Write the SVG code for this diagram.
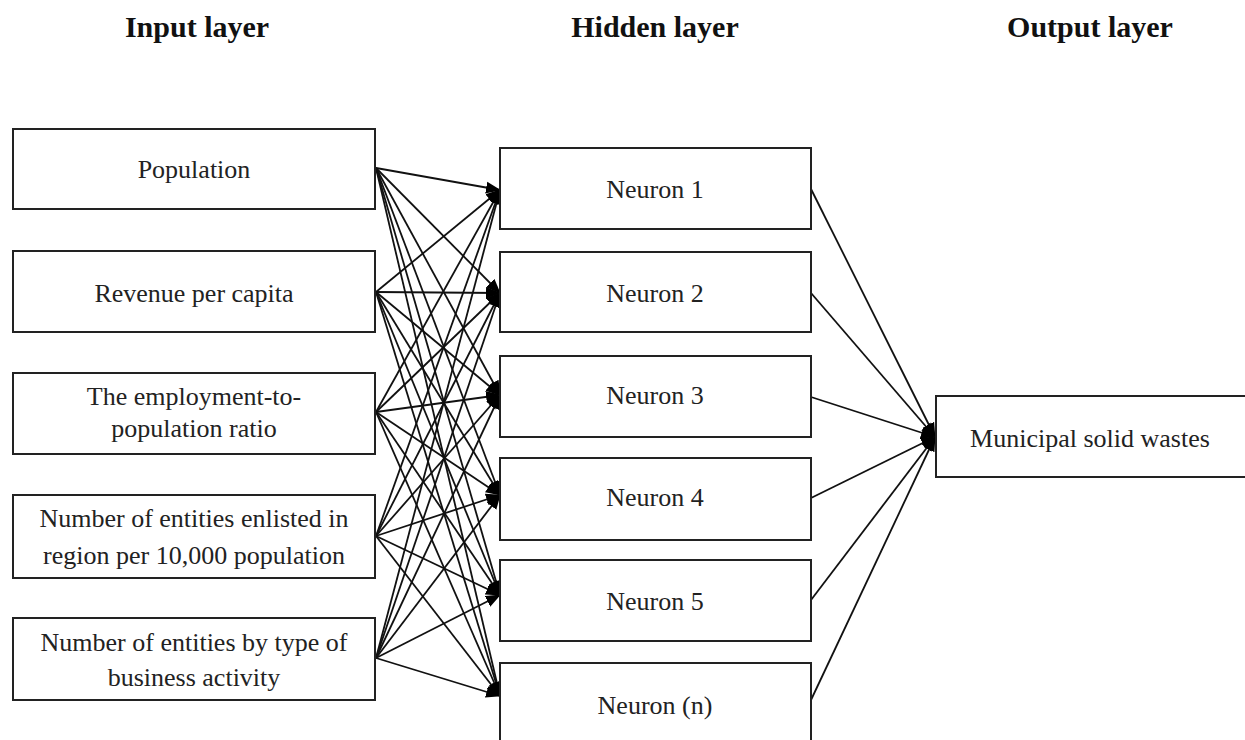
<svg xmlns="http://www.w3.org/2000/svg" width="1245" height="740" viewBox="0 0 1245 740">
<style>
.box{fill:#fff;stroke:#222;stroke-width:2}
.t{font-family:"Liberation Serif",serif;font-size:26px;fill:#222;text-anchor:middle}
.h{font-family:"Liberation Serif",serif;font-size:30px;font-weight:bold;fill:#111;text-anchor:middle}
.c line{stroke:#111;stroke-width:1.8}
</style>
<defs>
<marker id="ah" markerUnits="userSpaceOnUse" markerWidth="16" markerHeight="14" refX="14" refY="7" orient="auto">
<path d="M0,1 L15,7 L0,13 Z" fill="#000"/>
</marker>
</defs>
<text class="h" x="197" y="37">Input layer</text>
<text class="h" x="655" y="37">Hidden layer</text>
<text class="h" x="1090" y="37">Output layer</text>
<g class="c">
<line x1="376" y1="168" x2="500" y2="190" marker-end="url(#ah)"/><line x1="376" y1="168" x2="500" y2="293" marker-end="url(#ah)"/><line x1="376" y1="168" x2="500" y2="395" marker-end="url(#ah)"/><line x1="376" y1="168" x2="500" y2="495" marker-end="url(#ah)"/><line x1="376" y1="168" x2="500" y2="595" marker-end="url(#ah)"/><line x1="376" y1="168" x2="500" y2="696" marker-end="url(#ah)"/>
<line x1="376" y1="292" x2="500" y2="190" marker-end="url(#ah)"/><line x1="376" y1="292" x2="500" y2="293" marker-end="url(#ah)"/><line x1="376" y1="292" x2="500" y2="395" marker-end="url(#ah)"/><line x1="376" y1="292" x2="500" y2="495" marker-end="url(#ah)"/><line x1="376" y1="292" x2="500" y2="595" marker-end="url(#ah)"/><line x1="376" y1="292" x2="500" y2="696" marker-end="url(#ah)"/>
<line x1="376" y1="412" x2="500" y2="190" marker-end="url(#ah)"/><line x1="376" y1="412" x2="500" y2="293" marker-end="url(#ah)"/><line x1="376" y1="412" x2="500" y2="395" marker-end="url(#ah)"/><line x1="376" y1="412" x2="500" y2="495" marker-end="url(#ah)"/><line x1="376" y1="412" x2="500" y2="595" marker-end="url(#ah)"/><line x1="376" y1="412" x2="500" y2="696" marker-end="url(#ah)"/>
<line x1="376" y1="536" x2="500" y2="190" marker-end="url(#ah)"/><line x1="376" y1="536" x2="500" y2="293" marker-end="url(#ah)"/><line x1="376" y1="536" x2="500" y2="395" marker-end="url(#ah)"/><line x1="376" y1="536" x2="500" y2="495" marker-end="url(#ah)"/><line x1="376" y1="536" x2="500" y2="595" marker-end="url(#ah)"/><line x1="376" y1="536" x2="500" y2="696" marker-end="url(#ah)"/>
<line x1="376" y1="658" x2="500" y2="190" marker-end="url(#ah)"/><line x1="376" y1="658" x2="500" y2="293" marker-end="url(#ah)"/><line x1="376" y1="658" x2="500" y2="395" marker-end="url(#ah)"/><line x1="376" y1="658" x2="500" y2="495" marker-end="url(#ah)"/><line x1="376" y1="658" x2="500" y2="595" marker-end="url(#ah)"/><line x1="376" y1="658" x2="500" y2="696" marker-end="url(#ah)"/>
<line x1="811" y1="189" x2="935" y2="437" marker-end="url(#ah)"/><line x1="811" y1="293" x2="935" y2="437" marker-end="url(#ah)"/><line x1="811" y1="397" x2="935" y2="437" marker-end="url(#ah)"/><line x1="811" y1="498" x2="935" y2="437" marker-end="url(#ah)"/><line x1="811" y1="600" x2="935" y2="437" marker-end="url(#ah)"/><line x1="811" y1="700" x2="935" y2="437" marker-end="url(#ah)"/>
</g>
<g id="in1"><rect class="box" x="13" y="129" width="362" height="80"/><text class="t" x="194" y="178">Population</text></g>
<g id="in2"><rect class="box" x="13" y="251" width="362" height="81"/><text class="t" x="194" y="302">Revenue per capita</text></g>
<g id="in3"><rect class="box" x="13" y="373" width="362" height="81"/><text class="t" x="194" y="405">The employment-to-</text><text class="t" x="194" y="437">population ratio</text></g>
<g id="in4"><rect class="box" x="13" y="495" width="362" height="83"/><text class="t" x="194" y="527">Number of entities enlisted in</text><text class="t" x="194" y="564">region per 10,000 population</text></g>
<g id="in5"><rect class="box" x="13" y="618" width="362" height="82"/><text class="t" x="194" y="651">Number of entities by type of</text><text class="t" x="194" y="686">business activity</text></g>
<g id="n1"><rect class="box" x="500" y="148" width="311" height="81"/><text class="t" x="655" y="198">Neuron 1</text></g>
<g id="n2"><rect class="box" x="500" y="252" width="311" height="80"/><text class="t" x="655" y="302">Neuron 2</text></g>
<g id="n3"><rect class="box" x="500" y="356" width="311" height="81"/><text class="t" x="655" y="404">Neuron 3</text></g>
<g id="n4"><rect class="box" x="500" y="458" width="311" height="82"/><text class="t" x="655" y="506">Neuron 4</text></g>
<g id="n5"><rect class="box" x="500" y="560" width="311" height="81"/><text class="t" x="655" y="610">Neuron 5</text></g>
<g id="nn"><rect class="box" x="500" y="663" width="311" height="90"/><text class="t" x="655" y="714">Neuron (n)</text></g>
<g id="out"><rect class="box" x="936" y="396" width="320" height="81"/><text class="t" x="1090" y="447">Municipal solid wastes</text></g>
</svg>
